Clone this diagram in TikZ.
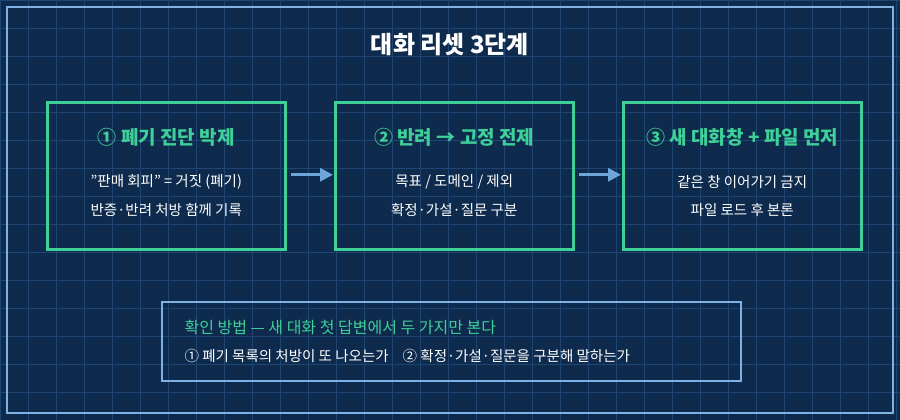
\documentclass[tikz,border=0pt]{standalone}
\usepackage{fontspec}
\setmainfont{Noto Sans CJK KR}
\usetikzlibrary{positioning,arrows.meta}
\definecolor{bgblue}{HTML}{0E2A4C}
\definecolor{gridblue}{HTML}{1F4573}
\definecolor{framelight}{HTML}{7FB2E3}
\definecolor{stepgreen}{HTML}{3FCF98}
\definecolor{arrowblue}{HTML}{6FA6DA}
\begin{document}
\begin{tikzpicture}[x=1pt,y=-1pt]
    \tikzstyle{stage} = [draw=stepgreen,line width=2.5pt,minimum width=238pt,minimum height=147pt,anchor=north west]
    \tikzstyle{stitle}= [text=stepgreen,font=\fontsize{19}{22}\selectfont\bfseries]
    \tikzstyle{sline} = [text=white,font=\fontsize{14.5}{17}\selectfont]
    \tikzstyle{dedge} = [line width=3pt,-{Triangle[length=13pt,width=13pt]},draw=arrowblue]

    \fill[bgblue] (0,0) rectangle (900,420);
    \useasboundingbox (0,0) rectangle (900,420);
    \draw[gridblue,line width=0.8pt,step=28pt] (0,0) grid (900,420);
    \draw[framelight,line width=1.5pt] (7,7) rectangle (893,413);

    \node[text=white,font=\fontsize{24}{28}\selectfont\bfseries] (title) at (450,45) {대화 리셋 3단계};

    % three steps
    \node[stage] (one)   at (46,101)  {};
    \node[stage] (two)   at (334,101) {};
    \node[stage] (three) at (622,101) {};

    \node[stitle] at ([yshift=-36pt]one.north)   {① 폐기 진단 박제};
    \node[sline]  at ([yshift=-81pt]one.north)   {\symbol{34}판매 회피\symbol{34} = 거짓 (폐기)};
    \node[sline]  at ([yshift=-109pt]one.north)  {반증·반려 처방 함께 기록};

    \node[stitle] at ([yshift=-36pt]two.north)   {② 반려 → 고정 전제};
    \node[sline]  at ([yshift=-81pt]two.north)   {목표 / 도메인 / 제외};
    \node[sline]  at ([yshift=-109pt]two.north)  {확정·가설·질문 구분};

    \node[stitle] at ([yshift=-36pt]three.north) {③ 새 대화창 + 파일 먼저};
    \node[sline]  at ([yshift=-81pt]three.north) {같은 창 이어가기 금지};
    \node[sline]  at ([yshift=-109pt]three.north){파일 로드 후 본론};

    % step -> step
    \draw[dedge] ([xshift=4pt,yshift=1pt]one.east) -- ([xshift=-1pt,yshift=1pt]two.west);
    \draw[dedge] ([xshift=4pt,yshift=1pt]two.east) -- ([xshift=-1pt,yshift=1pt]three.west);

    % check box
    \node[draw=framelight,line width=1.5pt,minimum width=579pt,minimum height=79pt,anchor=north west] (check) at (161,301) {};
    \node[anchor=west,text=stepgreen,font=\fontsize{16}{19}\selectfont] (checktitle) at ([xshift=20pt,yshift=-26pt]check.north west) {확인 방법 — 새 대화 첫 답변에서 두 가지만 본다};
    \node[anchor=west,sline] (checkline) at ([xshift=20pt,yshift=-55pt]check.north west) {① 폐기 목록의 처방이 또 나오는가\hspace{14pt}② 확정·가설·질문을 구분해 말하는가};
\end{tikzpicture}
\end{document}
